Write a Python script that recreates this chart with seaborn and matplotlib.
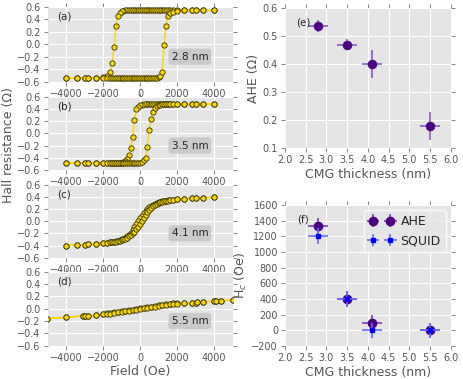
import numpy as np
import pandas as pd
import seaborn as sns
import matplotlib
matplotlib.use("Agg")
import matplotlib.pyplot as plt

# field sweep shared by loops (a)-(c), listed from +4000 down to -4000
field = [4000, 3400, 3000, 2800, 2400, 2000, 1800,
         1600, 1500, 1400, 1300, 1200, 1100, 1000, 900,
         800, 700, 600, 500, 400, 300, 200, 100,
         0, -100, -200, -300, -400, -500, -600, -700,
         -800, -900, -1000, -1100, -1200, -1300, -1400, -1500,
         -1600, -1800, -2000, -2400, -2800, -3000, -3400, -4000]

# (a) 2.8 nm
a_down = [0.54, 0.54, 0.54, 0.54, 0.54, 0.54, 0.54,
          0.54, 0.54, 0.54, 0.54, 0.54, 0.54, 0.54, 0.54,
          0.54, 0.54, 0.54, 0.54, 0.54, 0.54, 0.54, 0.54,
          0.54, 0.54, 0.54, 0.54, 0.54, 0.54, 0.54, 0.54,
          0.54, 0.535, 0.53, 0.50, 0.45, 0.29, -0.05, -0.30,
          -0.45, -0.51, -0.53, -0.54, -0.54, -0.54, -0.54, -0.54]
a_up = [0.54, 0.54, 0.54, 0.54, 0.54, 0.53, 0.52,
        0.50, 0.45, 0.29, -0.02, -0.44, -0.51, -0.53, -0.535,
        -0.54, -0.54, -0.54, -0.54, -0.54, -0.54, -0.54, -0.54,
        -0.54, -0.54, -0.54, -0.54, -0.54, -0.54, -0.54, -0.54,
        -0.54, -0.54, -0.54, -0.54, -0.54, -0.54, -0.54, -0.54,
        -0.54, -0.54, -0.54, -0.54, -0.54, -0.54, -0.54, -0.54]

# (b) 3.5 nm
b_down = [0.48, 0.48, 0.48, 0.48, 0.48, 0.48, 0.48,
          0.48, 0.48, 0.48, 0.48, 0.48, 0.48, 0.48, 0.48,
          0.48, 0.48, 0.48, 0.48, 0.48, 0.48, 0.48, 0.47,
          0.46, 0.43, 0.40, 0.22, -0.06, -0.24, -0.36, -0.42,
          -0.45, -0.47, -0.48, -0.485, -0.49, -0.49, -0.49, -0.49,
          -0.49, -0.49, -0.49, -0.49, -0.49, -0.49, -0.49, -0.49]
b_up = [0.48, 0.48, 0.48, 0.48, 0.48, 0.48, 0.48,
        0.48, 0.48, 0.48, 0.48, 0.475, 0.47, 0.46, 0.45,
        0.41, 0.35, 0.24, 0.06, -0.22, -0.40, -0.44, -0.47,
        -0.48, -0.49, -0.49, -0.49, -0.49, -0.49, -0.49, -0.49,
        -0.49, -0.49, -0.49, -0.49, -0.49, -0.49, -0.49, -0.49,
        -0.49, -0.49, -0.49, -0.49, -0.49, -0.49, -0.49, -0.49]

# (c) 4.1 nm
c_down = [0.39, 0.385, 0.38, 0.38, 0.37, 0.36, 0.355,
          0.35, 0.345, 0.34, 0.335, 0.33, 0.32, 0.31, 0.30,
          0.29, 0.27, 0.25, 0.23, 0.20, 0.17, 0.13, 0.09,
          0.05, 0.00, -0.05, -0.10, -0.15, -0.19, -0.22, -0.25,
          -0.27, -0.29, -0.30, -0.31, -0.32, -0.33, -0.335, -0.34,
          -0.345, -0.355, -0.36, -0.37, -0.38, -0.385, -0.39, -0.40]
c_up = [0.39, 0.385, 0.38, 0.38, 0.37, 0.36, 0.35,
        0.345, 0.34, 0.335, 0.33, 0.32, 0.31, 0.30, 0.29,
        0.27, 0.25, 0.22, 0.19, 0.15, 0.10, 0.05, 0.00,
        -0.05, -0.09, -0.13, -0.17, -0.20, -0.23, -0.25, -0.27,
        -0.29, -0.30, -0.31, -0.32, -0.33, -0.335, -0.34, -0.345,
        -0.35, -0.355, -0.36, -0.37, -0.38, -0.385, -0.39, -0.40]

# (d) 5.5 nm, wider sweep
field_d = [5000, 4400, 4100, 4000, 3400, 3100, 3000, 2800, 2400,
           2000, 1800, 1600, 1400, 1200, 1000, 800, 600, 400, 200,
           0, -200, -400, -600, -800, -1000, -1200, -1400, -1600, -1800,
           -2000, -2400, -2800, -3000, -3100, -4000, -5000]
d_down = [0.14, 0.13, 0.125, 0.12, 0.11, 0.11, 0.10, 0.10, 0.09,
          0.09, 0.085, 0.08, 0.07, 0.065, 0.055, 0.045, 0.035, 0.025, 0.015,
          0.005, -0.005, -0.015, -0.025, -0.035, -0.045, -0.055, -0.06, -0.07, -0.075,
          -0.08, -0.11, -0.115, -0.12, -0.115, -0.14, -0.16]
d_up = [0.14, 0.13, 0.125, 0.12, 0.11, 0.105, 0.10, 0.095, 0.085,
        0.08, 0.075, 0.07, 0.06, 0.055, 0.045, 0.035, 0.025, 0.015, 0.005,
        -0.005, -0.015, -0.025, -0.035, -0.045, -0.055, -0.06, -0.07, -0.08, -0.085,
        -0.09, -0.11, -0.12, -0.125, -0.12, -0.14, -0.16]

panel_tags = ["(a)", "(b)", "(c)", "(d)"]
thick_labels = ["2.8 nm", "3.5 nm", "4.1 nm", "5.5 nm"]

# right-hand summary panels
thickness = [2.8, 3.5, 4.1, 5.5]
thick_err = [0.25, 0.25, 0.25, 0.25]
ahe = [0.537, 0.47, 0.40, 0.18]
ahe_err = [0.02, 0.02, 0.05, 0.05]
hc_ahe = [1330, 400, 100, 0]
hc_ahe_err = [100, 100, 100, 100]
hc_squid = [1200, 400, 0, 0]
hc_squid_err = [100, 100, 100, 100]

sns.set_theme(style="darkgrid", rc={
    "axes.facecolor": "#E5E5E5",
    "axes.edgecolor": "white",
    "axes.linewidth": 0,
    "grid.color": "white",
    "grid.linewidth": 0.8,
    "xtick.color": "#555555",
    "ytick.color": "#555555",
    "axes.labelcolor": "#555555",
    "xtick.bottom": True, "xtick.top": True,
    "ytick.left": True, "ytick.right": True,
    "xtick.direction": "out", "ytick.direction": "out",
    "xtick.major.size": 3, "ytick.major.size": 3,
    "xtick.major.width": 0.5, "ytick.major.width": 0.5,
    "xtick.major.pad": 2, "ytick.major.pad": 2,
    "xtick.labelsize": 7, "ytick.labelsize": 7,
    "axes.labelsize": 9,
    "axes.labelpad": 2,
})
plt.rcParams["font.family"] = ["DejaVu Sans"]

W, H = 463, 379
fig = plt.figure(figsize=(W / 100, H / 100), dpi=100)

left_boxes = [(47.5, 6.7, 81.7), (47.5, 96.7, 170.0),
              (47.5, 184.7, 257.7), (47.5, 271.7, 345.7)]
loops = [(field, a_down, a_up), (field, b_down, b_up),
         (field, c_down, c_up), (field_d, d_down, d_up)]

gold = "#FFD700"
for i, (x0, top, bot) in enumerate(left_boxes):
    ax = fig.add_axes([x0 / W, 1 - bot / H, 185 / W, (bot - top) / H])
    f, rd, ru = loops[i]
    loop = pd.DataFrame({"H": list(f) + list(f)[::-1],
                         "R": list(rd) + list(ru)[::-1]})
    sns.lineplot(data=loop, x="H", y="R", sort=False, estimator=None,
                 color=gold, lw=1, marker="o", markersize=3.8,
                 markerfacecolor=gold, markeredgecolor="#333300",
                 markeredgewidth=0.6, ax=ax)
    ax.set_xlim(-5000, 5000)
    ax.set_ylim(-0.6, 0.6)
    ax.set_xticks([-4000, -2000, 0, 2000, 4000])
    ax.set_yticks([-0.6, -0.4, -0.2, 0.0, 0.2, 0.4, 0.6])
    ax.set_ylabel("")
    ax.set_xlabel("Field (Oe)" if i == 3 else "")
    ax.text(-4500, 0.44, panel_tags[i], fontsize=7.5, va="center", ha="left")
    ax.text(2700, -0.2, thick_labels[i], fontsize=7.5, va="center", ha="center",
            bbox=dict(boxstyle="round,pad=0.3", fc="#C8C8C8", ec="none", alpha=0.9))

fig.text(9 / W, 1 - 145 / H, "Hall resistance (Ω)", rotation=90,
         va="center", ha="center", fontsize=9, color="#555555")

purple = "#4B0082"
purple_err = "#7B3FC0"
blue = "#0000FF"
blue_err = "#6A6AFF"

# (e)
ax_e = fig.add_axes([285 / W, 1 - 148.3 / H, 165.7 / W, 140 / H])
ax_e.errorbar(thickness, ahe, xerr=thick_err, yerr=ahe_err, fmt="none",
              ecolor=purple_err, elinewidth=1.2, alpha=0.85)
sns.scatterplot(x=thickness, y=ahe, color=purple, s=40, edgecolor=purple,
                linewidth=0.5, ax=ax_e, zorder=3)
ax_e.set_xlim(2, 6)
ax_e.set_ylim(0.1, 0.6)
ax_e.set_xticks(np.arange(2.0, 6.01, 0.5))
ax_e.set_yticks([0.1, 0.2, 0.3, 0.4, 0.5, 0.6])
ax_e.set_xlabel("CMG thickness (nm)")
ax_e.set_ylabel("AHE (Ω)")
ax_e.text(2.27, 0.551, "(e)", fontsize=7.5, va="center", ha="left")

# (f)
ax_f = fig.add_axes([285 / W, 1 - 346 / H, 165.7 / W, 141 / H])
ax_f.errorbar(thickness, hc_ahe, xerr=thick_err, yerr=hc_ahe_err, fmt="o",
              color=purple, ms=6, ecolor=purple_err, elinewidth=1.2,
              label="AHE", zorder=3)
ax_f.errorbar(thickness, hc_squid, xerr=thick_err, yerr=hc_squid_err, fmt="s",
              color=blue, ms=3.5, ecolor=blue_err, elinewidth=1.2,
              label="SQUID", zorder=4)
ax_f.set_xlim(2, 6)
ax_f.set_ylim(-200, 1600)
ax_f.set_xticks(np.arange(2.0, 6.01, 0.5))
ax_f.set_yticks(np.arange(-200, 1601, 200))
ax_f.set_xlabel("CMG thickness (nm)")
ax_f.set_ylabel("H$_c$ (Oe)")
ax_f.text(2.3, 1421, "(f)", fontsize=7.5, va="center", ha="left")
leg = ax_f.legend(loc="upper right", numpoints=2, fontsize=9, frameon=True,
                  borderaxespad=0.4, handletextpad=0.5)
leg.get_frame().set_facecolor("#E5E5E5")
leg.get_frame().set_edgecolor("white")

fig.savefig("out.png", dpi=100)
